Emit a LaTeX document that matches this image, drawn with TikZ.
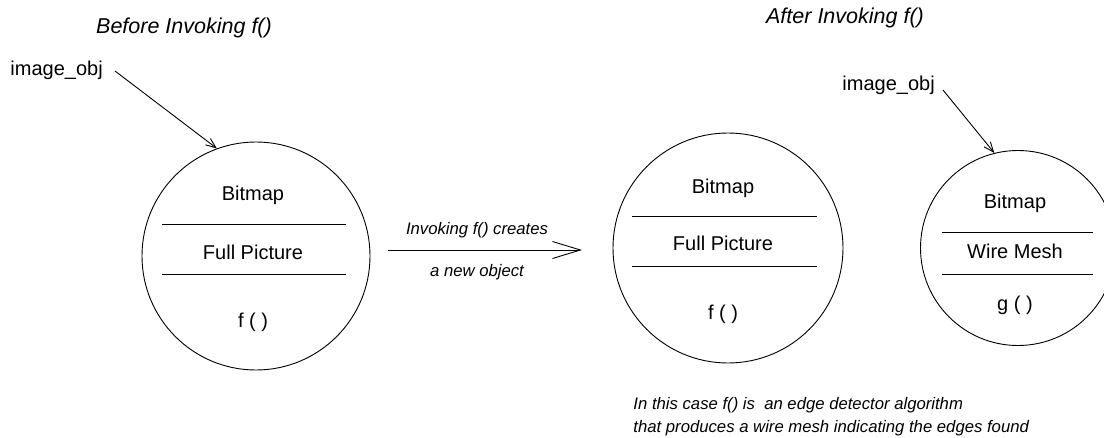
\documentclass[tikz,border=0pt]{standalone}
\usepackage{fontspec}
\setmainfont{Liberation Sans}
\usetikzlibrary{arrows.meta}
\begin{document}
\begin{tikzpicture}[x=1pt,y=-1pt,line width=0.9pt,
  obj/.style={circle,draw,inner sep=0pt},
  boxtxt/.style={anchor=base,inner sep=0pt,font=\fontsize{20}{24}\selectfont},
  title/.style={anchor=base,inner sep=0pt,font=\fontsize{21.5}{25}\selectfont\itshape},
  note/.style={anchor=base,inner sep=0pt,font=\fontsize{16.7}{20}\selectfont\itshape},
  ptr/.style={-{Straight Barb[length=10pt,width=8pt]}},
  big/.style={-{Straight Barb[length=28pt,width=17pt]}}]
\useasboundingbox (0,0) rectangle (1104,437);
\clip (0,0) rectangle (1104,437);
% titles
\node[title] (t1) at (184,33) {Before Invoking f()};
\node[title] (t2) at (845,23) {After Invoking f()};
% objects
\node[obj,minimum size=228pt] (c1) at (256,256) {};
\node[obj,minimum size=230pt] (c2) at (728,248) {};
\node[obj,minimum size=195pt] (c3) at (1018,248) {};
% object 1 contents
\draw (162,224) -- (346,224);
\draw (162,274) -- (346,274);
\node[boxtxt] (b1) at (253,200) {Bitmap};
\node[boxtxt] (p1) at (253,259) {Full Picture};
\node[boxtxt] (f1) at (253,327) {f ( )};
% object 2 contents
\draw (632,216) -- (817,216);
\draw (632,266) -- (817,266);
\node[boxtxt] (b2) at (723,193) {Bitmap};
\node[boxtxt] (p2) at (723,250) {Full Picture};
\node[boxtxt] (f2) at (723,319) {f ( )};
% object 3 contents
\draw (942,232) -- (1093,232);
\draw (942,274) -- (1093,274);
\node[boxtxt] (b3) at (1015,208) {Bitmap};
\node[boxtxt] (w3) at (1015,258) {Wire Mesh};
\node[boxtxt] (g3) at (1015,310) {g ( )};
% pointers
\node[boxtxt,anchor=base west] (io1) at (10,75) {image\_obj};
\node[boxtxt,anchor=base west] (io2) at (842,90) {image\_obj};
\coordinate (a1) at (115,71);
\coordinate (a2) at (943,90);
\draw[ptr] (a1) -- (c1.110.6);
\draw[ptr] (a2) -- (c3.104);
% main arrow
\coordinate (m1) at (388,250);
\coordinate (m2) at (582,250);
\draw[big] (m1) -- (m2);
\node[note] (l1) at (477,234) {Invoking f() creates};
\node[note] (l2) at (477,276) {a new object};
% note
\node[note,anchor=base west] (n1) at (633,409) {In this case f() is\ \ an edge detector algorithm};
\node[note,anchor=base west] (n2) at (633,432) {that produces a wire mesh indicating the edges found};
\end{tikzpicture}
\end{document}
